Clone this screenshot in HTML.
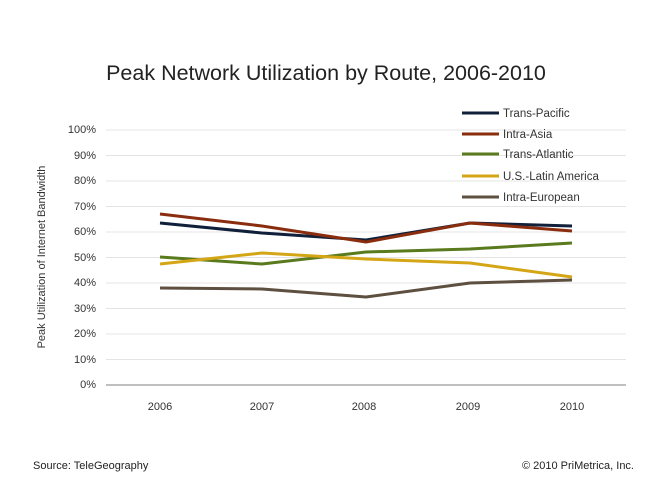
<!DOCTYPE html>
<html><head><meta charset="utf-8"><style>
body{margin:0;background:#fff;}
svg{display:block;font-family:"Liberation Sans",sans-serif;}
</style></head><body>
<svg width="660" height="495" xmlns="http://www.w3.org/2000/svg">
<rect width="660" height="495" fill="#fff"/>
<text x="326" y="80" font-size="21.5" text-anchor="middle" fill="#222">Peak Network Utilization by Route, 2006-2010</text>
<g stroke="#e4e4e4" stroke-width="1">
<line x1="106" x2="626" y1="130" y2="130"/><line x1="106" x2="626" y1="155.5" y2="155.5"/>
<line x1="106" x2="626" y1="181" y2="181"/><line x1="106" x2="626" y1="206.5" y2="206.5"/>
<line x1="106" x2="626" y1="232" y2="232"/><line x1="106" x2="626" y1="257.5" y2="257.5"/>
<line x1="106" x2="626" y1="283" y2="283"/><line x1="106" x2="626" y1="308.5" y2="308.5"/>
<line x1="106" x2="626" y1="334" y2="334"/><line x1="106" x2="626" y1="359.5" y2="359.5"/>
</g>
<line x1="106" x2="626" y1="385" y2="385" stroke="#999" stroke-width="1.2"/>
<g font-size="11" fill="#333" text-anchor="end">
<text x="96" y="133">100%</text><text x="96" y="159">90%</text><text x="96" y="184">80%</text>
<text x="96" y="210">70%</text><text x="96" y="235">60%</text><text x="96" y="261">50%</text>
<text x="96" y="286">40%</text><text x="96" y="312">30%</text><text x="96" y="337">20%</text>
<text x="96" y="363">10%</text><text x="96" y="388">0%</text>
</g>
<g font-size="11" fill="#333" text-anchor="middle">
<text x="160" y="410">2006</text><text x="262" y="410">2007</text><text x="364" y="410">2008</text>
<text x="468" y="410">2009</text><text x="572" y="410">2010</text>
</g>
<text transform="translate(45,257) rotate(-90)" font-size="11" fill="#333" text-anchor="middle">Peak Utilization of Internet Bandwidth</text>
<g fill="none" stroke-width="3" stroke-linejoin="round">
<polyline stroke="#10203a" points="160,223 262,233 366,240 470,223 572,226"/>
<polyline stroke="#8a2d0e" points="160,214 262,226 366,242 470,223 572,231"/>
<polyline stroke="#5a7a1e" points="160,257 262,264 366,252 470,249 572,243"/>
<polyline stroke="#d4a616" points="160,264 262,253 366,259 470,263 572,277"/>
<polyline stroke="#5e5040" points="160,288 262,289 366,297 470,283 572,280"/>
</g>
<g stroke-width="3">
<line x1="462" x2="499" y1="113" y2="113" stroke="#10203a"/>
<line x1="462" x2="499" y1="134" y2="134" stroke="#8a2d0e"/>
<line x1="462" x2="499" y1="154" y2="154" stroke="#5a7a1e"/>
<line x1="462" x2="499" y1="176" y2="176" stroke="#d4a616"/>
<line x1="462" x2="499" y1="197" y2="197" stroke="#5e5040"/>
</g>
<g font-size="11.5" fill="#333">
<text x="503" y="117">Trans-Pacific</text><text x="503" y="138">Intra-Asia</text>
<text x="503" y="158">Trans-Atlantic</text><text x="503" y="180">U.S.-Latin America</text>
<text x="503" y="201">Intra-European</text>
</g>
<text x="33" y="469" font-size="11" fill="#222">Source: TeleGeography</text>
<text x="634" y="469" font-size="11" fill="#222" text-anchor="end">© 2010 PriMetrica, Inc.</text>
</svg>
</body></html>
